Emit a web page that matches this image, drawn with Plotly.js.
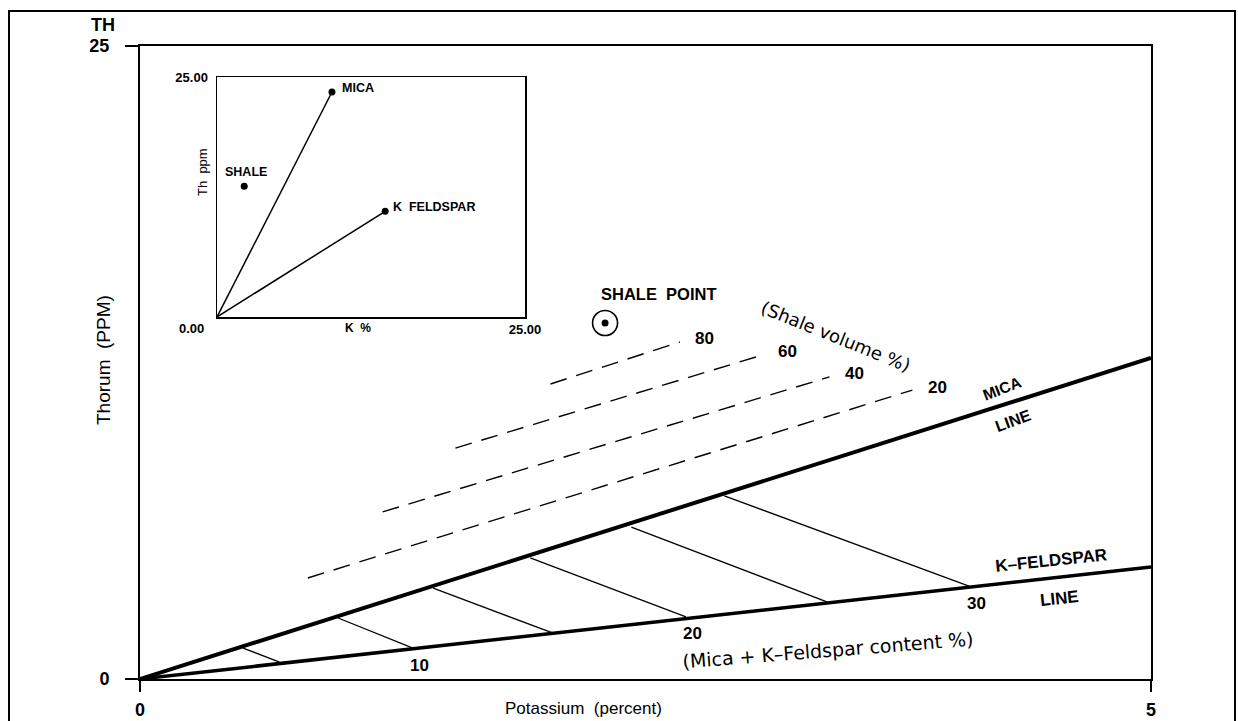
<!DOCTYPE html>
<html>
<head>
<meta charset="utf-8">
<script src="https://cdn.plot.ly/plotly-3.0.1.min.js"></script>
<style>html,body{margin:0;padding:0;background:#fff;}#chart{width:1238px;height:721px;}</style>
</head>
<body>
<div id="chart"></div>
<script>
// ---- main chart data (K %, Th ppm) ----
const lineK = [0, 5];
const micaLineTh = [0, 12.68];
const feldLineTh = [0, 4.42];

// tie lines between mica and K-feldspar lines (Mica + K-Feldspar content %)
const tieMicaK  = [0.51, 0.98, 1.45, 1.93, 2.43, 2.89];
const tieMicaTh = [1.22, 2.41, 3.59, 4.78, 6.00, 7.23];
const tieFeldK  = [0.69, 1.35, 2.04, 2.70, 3.40, 4.10];
const tieFeldTh = [0.67, 1.22, 1.82, 2.45, 3.04, 3.67];
const tieLabels = ['', '10', '', '20', '', '30'];

// shale volume dashed lines
const shaleVolLabels = ['80', '60', '40', '20'];
const dashStartK  = [2.03, 1.56, 1.20, 0.83];
const dashStartTh = [11.65, 9.12, 6.60, 3.99];
const dashEndK    = [2.67, 3.08, 3.41, 3.82];
const dashEndTh   = [13.31, 12.80, 11.93, 11.41];

// shale point
const shaleK = [2.30];
const shaleTh = [14.06];

// ---- inset data ----
const insetNames = ['MICA', 'SHALE', 'K  FELDSPAR'];
const insetK  = [9.33, 2.21, 13.65];
const insetTh = [23.44, 13.61, 11.01];

// tick labels
const xTickVals = [0, 5];
const yTickVals = [0, 25];
const insetTickVals = [25];
const insetTickText = ['25.00'];

const traces = [];
traces.push({x: lineK, y: micaLineTh, mode: 'lines', line: {color: '#000', width: 4}, xaxis: 'x', yaxis: 'y', hoverinfo: 'skip'});
traces.push({x: lineK, y: feldLineTh, mode: 'lines', line: {color: '#000', width: 3.5}, xaxis: 'x', yaxis: 'y', hoverinfo: 'skip'});
for (let i = 0; i < tieMicaK.length; i++) {
  traces.push({x: [tieMicaK[i], tieFeldK[i]], y: [tieMicaTh[i], tieFeldTh[i]], mode: 'lines',
    line: {color: '#000', width: 1.3}, xaxis: 'x', yaxis: 'y', hoverinfo: 'skip'});
}
for (let i = 0; i < dashStartK.length; i++) {
  traces.push({x: [dashStartK[i], dashEndK[i]], y: [dashStartTh[i], dashEndTh[i]], mode: 'lines',
    line: {color: '#000', width: 1.4, dash: '17px,10px'}, xaxis: 'x', yaxis: 'y', hoverinfo: 'skip'});
}
traces.push({x: shaleK, y: shaleTh, mode: 'markers', marker: {symbol: 'circle-open', size: 25, color: '#000', line: {width: 1.6, color: '#000'}}, xaxis: 'x', yaxis: 'y', hoverinfo: 'skip'});
traces.push({x: shaleK, y: shaleTh, mode: 'markers', marker: {symbol: 'circle', size: 7, color: '#000'}, xaxis: 'x', yaxis: 'y', hoverinfo: 'skip'});

traces.push({x: [0, insetK[0]], y: [0, insetTh[0]], mode: 'lines', line: {color: '#000', width: 1.5}, xaxis: 'x2', yaxis: 'y2', hoverinfo: 'skip'});
traces.push({x: [0, insetK[2]], y: [0, insetTh[2]], mode: 'lines', line: {color: '#000', width: 1.5}, xaxis: 'x2', yaxis: 'y2', hoverinfo: 'skip'});
traces.push({x: insetK, y: insetTh, mode: 'markers', marker: {symbol: 'circle', size: 7, color: '#000'}, xaxis: 'x2', yaxis: 'y2', hoverinfo: 'skip'});

const F = 'Liberation Sans, Arial, sans-serif';
const R = 'DejaVu Sans, sans-serif';
const annotations = [];
function ann(o) { annotations.push(Object.assign({showarrow: false, xanchor: 'center', yanchor: 'middle'}, o)); }

tieLabels.forEach((t, i) => {
  if (!t) return;
  ann({x: tieFeldK[i], y: tieFeldTh[i], xref: 'x', yref: 'y', text: '<b>' + t + '</b>',
    xshift: 7, yshift: -17, font: {family: F, size: 17, color: '#000'}});
});
shaleVolLabels.forEach((t, i) => {
  ann({x: dashEndK[i], y: dashEndTh[i], xref: 'x', yref: 'y', text: '<b>' + t + '</b>',
    xshift: 25, yshift: 3, font: {family: F, size: 17, color: '#000'}});
});
ann({x: shaleK[0], y: shaleTh[0], xref: 'x', yref: 'y', text: '<b>SHALE  POINT</b>',
  xshift: 54, yshift: 29, font: {family: F, size: 16.5, color: '#000'}});

ann({x: 4.263, y: 11.49, xref: 'x', yref: 'y', text: '<b>MICA</b>', textangle: -21, font: {family: F, size: 15.5, color: '#000'}});
ann({x: 4.322, y: 10.19, xref: 'x', yref: 'y', text: '<b>LINE</b>', textangle: -20, font: {family: F, size: 16, color: '#000'}});
ann({x: 4.505, y: 4.70, xref: 'x', yref: 'y', text: '<b>K\u2013FELDSPAR</b>', textangle: -6, font: {family: F, size: 17, color: '#000'}});
ann({x: 4.545, y: 3.16, xref: 'x', yref: 'y', text: '<b>LINE</b>', textangle: -6, font: {family: F, size: 17, color: '#000'}});
ann({x: 3.403, y: 1.145, xref: 'x', yref: 'y', text: '(Mica + K\u2013Feldspar content %)', textangle: -4.5, font: {family: R, size: 19, color: '#000'}});
ann({x: 3.442, y: 13.51, xref: 'x', yref: 'y', text: '(Shale volume %)', textangle: 22, font: {family: R, size: 18, color: '#000'}});

// axis texts (paper coords)
const px = v => (v - 140) / 1011;
const py = v => (679 - v) / 633;
ann({x: px(103), y: py(25), xref: 'paper', yref: 'paper', text: '<b>TH</b>', font: {family: F, size: 18, color: '#000'}});
ann({x: px(583), y: py(708), xref: 'paper', yref: 'paper', text: 'Potassium  (percent)', font: {family: F, size: 17, color: '#000'}});
ann({x: px(103), y: py(360), xref: 'paper', yref: 'paper', text: 'Thorum  (PPM)', textangle: -90, font: {family: F, size: 19, color: '#000'}});

// inset labels
ann({x: insetK[0], y: insetTh[0], xref: 'x2', yref: 'y2', text: '<b>' + insetNames[0] + '</b>', xanchor: 'left', xshift: 8, yshift: 4, font: {family: F, size: 12.5, color: '#000'}});
ann({x: insetK[1], y: insetTh[1], xref: 'x2', yref: 'y2', text: '<b>' + insetNames[1] + '</b>', xshift: 2, yshift: 14, font: {family: F, size: 12.5, color: '#000'}});
ann({x: insetK[2], y: insetTh[2], xref: 'x2', yref: 'y2', text: '<b>' + insetNames[2] + '</b>', xanchor: 'left', xshift: 6, yshift: 4, font: {family: F, size: 12.5, color: '#000'}});
ann({x: px(191), y: py(328), xref: 'paper', yref: 'paper', text: '<b>0.00</b>', font: {family: F, size: 13, color: '#000'}});
ann({x: px(358), y: py(328), xref: 'paper', yref: 'paper', text: '<b>K  %</b>', font: {family: F, size: 12, color: '#000'}});
ann({x: px(203), y: py(172), xref: 'paper', yref: 'paper', text: 'Th  ppm', textangle: -90, font: {family: F, size: 13, color: '#000'}});

const layout = {
  width: 1238, height: 721,
  margin: {l: 140, r: 87, t: 46, b: 42},
  paper_bgcolor: '#fff', plot_bgcolor: 'rgba(0,0,0,0)',
  showlegend: false,
  xaxis: {range: [0, 5], tickvals: xTickVals, ticktext: xTickVals.map(v => '<b>' + v + '</b>'),
    showline: true, mirror: true, linecolor: '#000', linewidth: 2, ticks: 'outside', ticklen: 11, tickwidth: 2, tickcolor: '#000',
    showgrid: false, zeroline: false, ticklabelstandoff: 2, tickfont: {family: F, size: 18, color: '#000'}, fixedrange: true},
  yaxis: {range: [0, 25], tickvals: yTickVals, ticktext: yTickVals.map(v => '<b>' + v + '</b>'),
    showline: true, mirror: true, linecolor: '#000', linewidth: 2, ticks: 'outside', ticklen: 13, tickwidth: 2, tickcolor: '#000',
    showgrid: false, zeroline: false, ticklabelstandoff: 12, tickfont: {family: F, size: 18, color: '#000'}, fixedrange: true},
  xaxis2: {domain: [px(217), px(525)], anchor: 'y2', range: [0, 25], tickvals: insetTickVals, ticktext: insetTickText.map(t => '<b>' + t + '</b>'),
    showline: true, mirror: true, linecolor: '#000', linewidth: 1.5, ticks: '', showgrid: false, zeroline: false,
    ticklabelstandoff: 0, tickfont: {family: F, size: 13, color: '#000'}},
  yaxis2: {domain: [py(317), py(77)], anchor: 'x2', range: [0, 25], tickvals: insetTickVals, ticktext: insetTickText.map(t => '<b>' + t + '</b>'),
    showline: true, mirror: true, linecolor: '#000', linewidth: 1.5, ticks: '', showgrid: false, zeroline: false,
    ticklabelstandoff: 5, tickfont: {family: F, size: 13, color: '#000'}},
  shapes: [
    {type: 'rect', xref: 'paper', yref: 'paper', x0: px(9), x1: px(1235), y0: py(730), y1: py(11),
      line: {color: '#000', width: 2}, fillcolor: 'rgba(0,0,0,0)', layer: 'below'}
  ],
  annotations: annotations
};

Plotly.newPlot('chart', traces, layout, {staticPlot: true, displayModeBar: false});
</script>
</body>
</html>
